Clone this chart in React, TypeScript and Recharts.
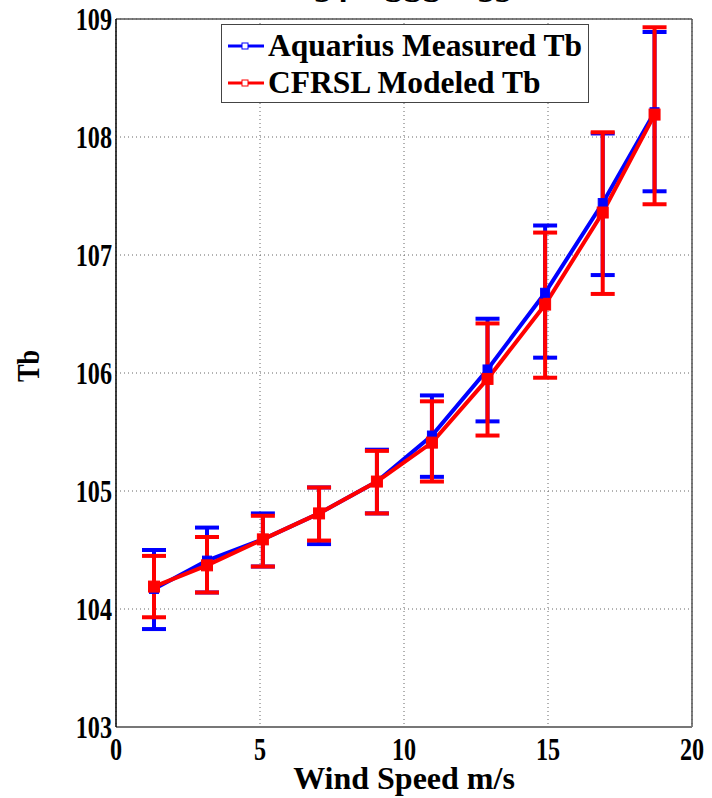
import React from "react";
import {
  CartesianGrid,
  ErrorBar,
  Line,
  LineChart,
  ReferenceLine,
  XAxis,
  YAxis,
} from "recharts";

const windSpeed = [1.32, 3.16, 5.1, 7.05, 9.06, 10.97, 12.9, 14.9, 16.9, 18.7];

const measuredTb = [104.17, 104.41, 104.59, 104.81, 105.08, 105.47, 106.03, 106.68, 107.44, 108.21];
const measuredLow = [103.83, 104.14, 104.36, 104.55, 104.81, 105.12, 105.59, 106.13, 106.83, 107.54];
const measuredHigh = [104.5, 104.69, 104.81, 105.03, 105.35, 105.81, 106.46, 107.25, 108.03, 108.89];

const modeledTb = [104.19, 104.37, 104.59, 104.81, 105.08, 105.41, 105.95, 106.58, 107.36, 108.19];
const modeledLow = [103.93, 104.14, 104.36, 104.58, 104.81, 105.08, 105.47, 105.96, 106.67, 107.43];
const modeledHigh = [104.45, 104.61, 104.79, 105.03, 105.34, 105.76, 106.42, 107.19, 108.04, 108.93];

const xTicks = [0, 5, 10, 15, 20];
const yTicks = [103, 104, 105, 106, 107, 108, 109];

const titleText = "34 < SSS < 35";
const measuredName = "Aquarius Measured Tb";
const modeledName = "CFRSL Modeled Tb";

const BLUE = "#0000ff";
const RED = "#ff0000";
const FONT = "'Liberation Serif', 'DejaVu Serif', serif";

const data = windSpeed.map((w, i) => ({
  wind: w,
  measured: measuredTb[i],
  measuredErr: [measuredTb[i] - measuredLow[i], measuredHigh[i] - measuredTb[i]],
  modeled: modeledTb[i],
  modeledErr: [modeledTb[i] - modeledLow[i], modeledHigh[i] - modeledTb[i]],
}));

const textStyle = { fontFamily: FONT, fontWeight: "bold" as const };

function squareDot(color: string, size: number) {
  return (props: any) => {
    const { cx, cy, index } = props;
    if (cx == null || cy == null) return <g key={index} />;
    return (
      <rect
        key={index}
        x={cx - size / 2}
        y={cy - size / 2}
        width={size}
        height={size}
        fill={color}
        stroke={color}
      />
    );
  };
}

// narrow the serif digits a bit so they look like the original Times ticks
function XTick(props: any) {
  const { x, y, payload } = props;
  return (
    <g transform={`translate(${x},${y})`}>
      <text transform="scale(0.78,1)" textAnchor="middle" dy="0.71em" fontSize={31} fill="#000" style={textStyle}>
        {payload.value}
      </text>
    </g>
  );
}

function YTick(props: any) {
  const { x, y, payload } = props;
  return (
    <g transform={`translate(${x},${y})`}>
      <text transform="scale(0.78,1)" textAnchor="end" dy="0.36em" fontSize={31} fill="#000" style={textStyle}>
        {payload.value}
      </text>
    </g>
  );
}

function YLabel(props: any) {
  const vb = props.viewBox || { x: 0, y: 0, width: 0, height: 0 };
  const cx = vb.x + 28;
  const cy = vb.y + vb.height / 2 - 7;
  return (
    <g transform={`translate(${cx},${cy}) rotate(-90) scale(0.85,1)`}>
      <text textAnchor="middle" dominantBaseline="central" fontSize={31} fill="#000" style={textStyle}>
        Tb
      </text>
    </g>
  );
}

function LegendBox() {
  const row = (color: string, label: string) => (
    <div style={{ display: "flex", alignItems: "center", height: 37 }}>
      <svg width={40} height={12} style={{ marginRight: 2 }}>
        <line x1={2} y1={6} x2={38} y2={6} stroke={color} strokeWidth={3} />
        <rect x={16} y={3} width={6} height={6} fill="#fff" stroke={color} strokeWidth={1} />
      </svg>
      <span>{label}</span>
    </div>
  );
  return (
    <div
      style={{
        position: "absolute",
        left: 221,
        top: 24,
        width: 368,
        height: 79,
        border: "1px solid #444",
        background: "#fff",
        fontFamily: FONT,
        fontWeight: "bold",
        fontSize: 31.5,
        color: "#000",
        boxSizing: "border-box",
        padding: "2px 0 0 4px",
        lineHeight: "37px",
        whiteSpace: "nowrap",
      }}
    >
      {row(BLUE, measuredName)}
      {row(RED, modeledName)}
    </div>
  );
}

export default function App() {
  return (
    <div
      style={{
        position: "absolute",
        left: 0,
        top: 0,
        width: 712,
        height: 798,
        overflow: "hidden",
        background: "#fff",
      }}
    >
      <div
        style={{
          position: "absolute",
          left: 0,
          width: 826,
          top: -27,
          textAlign: "center",
          fontFamily: FONT,
          fontWeight: "bold",
          fontSize: 34,
          lineHeight: "36px",
          color: "#000",
          whiteSpace: "pre",
        }}
      >
        {titleText}
      </div>
      <LineChart
        width={712}
        height={798}
        data={data}
        margin={{ top: 19, right: 20, left: 0, bottom: 0 }}
      >
        <CartesianGrid stroke="#666" strokeDasharray="1 3" />
        <XAxis
          dataKey="wind"
          type="number"
          domain={[0, 20]}
          ticks={xTicks}
          allowDataOverflow
          height={71}
          tickSize={0}
          tickMargin={11}
          tick={<XTick />}
          axisLine={{ stroke: "#777", strokeWidth: 2 }}
          label={{
            value: "Wind Speed m/s",
            position: "insideBottom",
            offset: 9,
            fill: "#000",
            style: { fontSize: 32, fontWeight: "bold", fontFamily: FONT },
          }}
        />
        <YAxis
          type="number"
          domain={[103, 109]}
          ticks={yTicks}
          allowDataOverflow
          width={116}
          tickSize={0}
          tickMargin={4}
          tick={<YTick />}
          axisLine={{ stroke: "#000", strokeWidth: 1.5 }}
          label={<YLabel />}
        />
        <ReferenceLine y={109} stroke="#555" strokeWidth={1.5} />
        <ReferenceLine x={20} stroke="#555" strokeWidth={1.5} />
        <Line
          dataKey="measured"
          stroke={BLUE}
          strokeWidth={4}
          dot={squareDot(BLUE, 9)}
          activeDot={false}
          isAnimationActive={false}
        >
          <ErrorBar
            dataKey="measuredErr"
            direction="y"
            width={12}
            stroke={BLUE}
            strokeWidth={4}
            isAnimationActive={false}
          />
        </Line>
        <Line
          dataKey="modeled"
          stroke={RED}
          strokeWidth={4}
          dot={squareDot(RED, 11)}
          activeDot={false}
          isAnimationActive={false}
        >
          <ErrorBar
            dataKey="modeledErr"
            direction="y"
            width={12}
            stroke={RED}
            strokeWidth={4}
            isAnimationActive={false}
          />
        </Line>
      </LineChart>
      <LegendBox />
    </div>
  );
}
